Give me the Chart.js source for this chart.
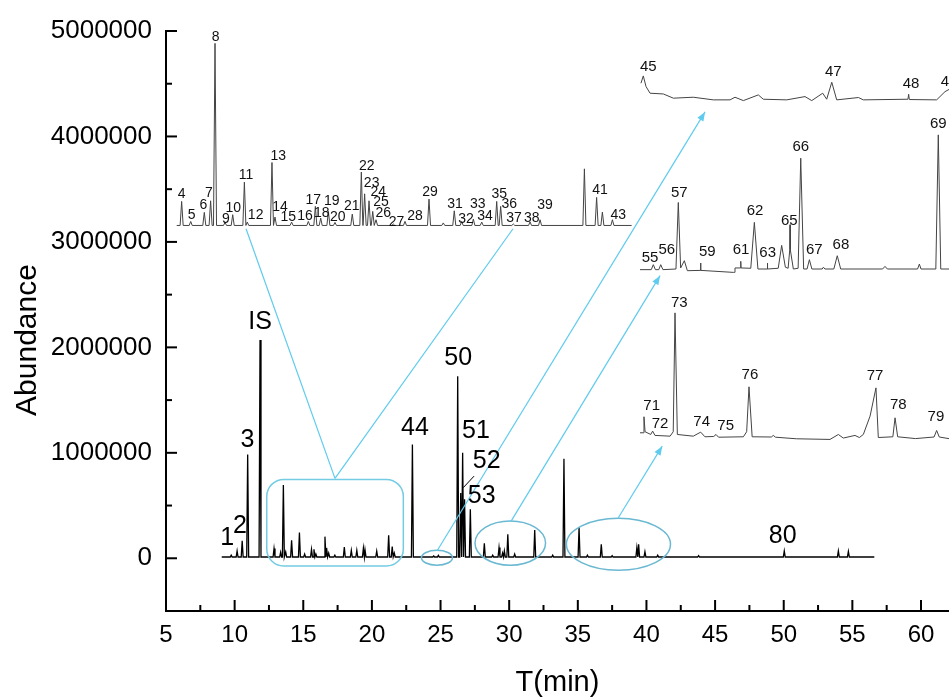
<!DOCTYPE html>
<html><head><meta charset="utf-8">
<script src="https://cdn.jsdelivr.net/npm/chart.js@4.4.1/dist/chart.umd.min.js"></script>
<style>html,body{margin:0;padding:0;background:#fff;}#wrap{width:949px;height:700px;}</style>
</head><body><div id="wrap"><canvas id="c" width="949" height="700"></canvas></div>
<script>
const FONT = '"Liberation Sans", Arial, Helvetica, sans-serif';

// ---- axes ----
const xTickValues = [5,10,15,20,25,30,35,40,45,50,55,60];
const xMinorValues = [7.5,12.5,17.5,22.5,27.5,32.5,37.5,42.5,47.5,52.5,57.5];
const yTickValues = [0,1000000,2000000,3000000,4000000,5000000];
const yMinorValues = [500000,1500000,2500000,3500000,4500000];
const yTitle = 'Abundance';

// ---- main chromatogram (retention time, abundance) ----
const mainStart = 9.06, mainEnd = 56.6, mainBase = 12000;
const mainPeakT = [9.75,10.18,10.55,10.95,11.85,12.87,13.35,13.55,13.72,14.15,14.72,15.10,15.60,15.78,15.92,16.58,16.70,16.85,17.30,17.99,18.50,18.90,19.38,19.50,20.35,21.22,21.48,21.63,22.95,24.50,24.84,26.25,26.47,26.61,26.75,27.17,28.19,28.80,29.26,29.52,29.65,29.90,30.40,31.86,33.17,33.99,35.09,35.70,36.71,37.50,39.30,39.43,39.89,40.82,43.80,50.04,53.98,54.71];
const mainPeakV = [30000,70000,165000,985000,2070000,92000,57000,694000,60000,170000,243000,40000,85000,85000,40000,205000,98000,50000,30000,107000,75000,75000,96000,80000,68000,218000,110000,50000,1080000,22000,28000,1726000,620000,1000000,560000,464000,142000,30000,101000,50000,70000,227000,40000,268000,30000,944000,295000,30000,132000,25000,100000,132000,63000,30000,25000,70000,70000,65000];

// ---- top inset (peaks 4-43), drawn in main-axis units ----
const topStart = 5.78, topEnd = 38.92, topBase = 3156000;
const topPeakT = [6.14,6.80,7.79,8.25,8.57,9.30,9.86,10.71,10.92,12.72,12.94,14.15,15.37,15.88,16.27,16.83,17.31,18.57,19.23,19.47,19.79,20.06,20.30,21.56,22.41,24.16,25.20,26.00,26.54,27.39,28.00,29.09,29.38,30.30,31.52,32.25,35.48,36.37,36.79,37.52];
const topPeakV = [3384000,3194000,3280000,3390000,4883000,3185000,3258000,3567000,3188000,3753000,3236000,3188000,3194000,3337000,3226000,3290000,3185000,3264000,3662000,3456000,3390000,3289000,3210000,3170000,3195000,3406000,3180000,3295000,3194000,3217000,3188000,3384000,3337000,3170000,3190000,3210000,3693000,3422000,3283000,3210000];

// ---- right insets, traced vertices ----
const ins45T = [39.60,39.77,39.97,40.26,41.23,41.96,43.41,44.87,46.09,46.45,47.06,48.15,48.51,50.22,51.55,52.04,52.84,53.13,53.50,53.86,55.44,55.80,59.05,59.10,59.15,61.14,61.75,62.10];
const ins45V = [4505000,4574000,4473000,4410000,4403000,4363000,4372000,4347000,4347000,4372000,4340000,4394000,4353000,4347000,4378000,4340000,4410000,4353000,4514000,4347000,4369000,4347000,4353000,4400000,4350000,4347000,4425000,4450000];

const ins55T = [39.53,40.35,40.50,40.65,40.90,41.04,41.20,42.15,42.32,42.49,42.76,42.98,43.94,43.95,43.96,46.33,46.40,46.45,46.85,46.87,46.89,47.60,47.86,48.12,48.79,48.81,48.83,49.60,49.85,50.12,50.32,50.44,50.46,50.48,50.70,51.05,51.24,51.45,51.70,51.87,52.05,52.80,52.89,53.00,53.65,53.90,54.15,57.20,57.38,57.55,59.75,59.88,60.00,61.08,61.26,61.44,62.10];
const ins55V = [2737000,2737000,2784000,2737000,2737000,2784000,2737000,2743000,3374000,2753000,2822000,2727000,2730000,2800000,2730000,2711000,2711000,2753000,2753000,2816000,2753000,2750000,3185000,2743000,2743000,2800000,2743000,2750000,2967000,2760000,2750000,2926000,3163000,2926000,2743000,2750000,3794000,2743000,2743000,2831000,2743000,2743000,2760000,2743000,2743000,2869000,2743000,2743000,2768000,2743000,2743000,2790000,2743000,2743000,4015000,2743000,2743000];

const ins71T = [39.53,39.78,39.82,39.90,40.31,40.45,40.62,41.72,41.95,42.08,42.25,43.41,43.95,44.26,44.90,45.07,45.25,47.06,47.30,47.47,47.70,49.10,49.24,49.40,50.94,53.37,53.98,54.34,55.19,55.51,55.80,56.29,56.72,56.89,57.95,58.11,58.30,59.60,60.95,61.14,61.33,62.10];
const ins71V = [1190000,1190000,1342000,1200000,1174000,1206000,1165000,1158000,1200000,2327000,1174000,1158000,1196000,1152000,1155000,1174000,1148000,1152000,1200000,1626000,1152000,1150000,1165000,1148000,1133000,1127000,1174000,1140000,1165000,1145000,1174000,1348000,1616000,1145000,1152000,1332000,1152000,1135000,1150000,1212000,1150000,1133000];

// ---- peak labels (text, anchor time, anchor abundance) ----
const mainLabelText = ['1','2','3','IS','44','50','51','52','53','80'];
const mainLabelT = [9.45,10.39,10.93,11.85,23.14,26.29,27.58,28.36,28.00,49.93];
const mainLabelV = [195000,306000,1120000,2240000,1238000,1900000,1206000,921000,590000,211000];

const topLabelText = ['4','5','6','7','8','9','10','11','12','13','14','15','16','17','18','19','20','21','22','23','24','25','26','27','28','29','31','32','33','34','35','36','37','38','39','41','43'];
const topLabelT = [6.14,6.87,7.72,8.13,8.62,9.37,9.90,10.83,11.53,13.18,13.30,13.91,15.13,15.73,16.34,17.07,17.51,18.53,19.62,19.98,20.47,20.66,20.83,21.80,23.14,24.23,26.05,26.85,27.71,28.24,29.28,30.01,30.35,31.64,32.61,36.62,37.95];
const topLabelV = [3456000,3258000,3346000,3463000,4946000,3220000,3321000,3630000,3258000,3816000,3327000,3236000,3248000,3393000,3274000,3390000,3236000,3343000,3715000,3558000,3469000,3378000,3274000,3188000,3248000,3475000,3362000,3217000,3362000,3242000,3456000,3362000,3226000,3226000,3349000,3488000,3258000];

const sideLabelText = ['45','47','48','49','55','56','57','59','61','62','63','65','66','67','68','69','71','72','73','74','75','76','77','78','79'];
const sideLabelT = [40.13,53.61,59.27,62.05,40.26,41.48,42.39,44.43,46.89,47.91,48.83,50.41,51.24,52.23,54.17,61.26,40.38,40.99,42.39,44.02,45.77,47.54,56.65,58.35,61.09];
const sideLabelV = [4662000,4615000,4495000,4514000,2848000,2926000,3469000,2901000,2920000,3296000,2895000,3204000,3899000,2920000,2973000,4119000,1449000,1278000,2421000,1291000,1259000,1742000,1733000,1458000,1342000];

// ---- zoom annotations (main-axis units) ----
const boxT = [12.34, 22.29], boxV = [-73000, 748000];
const fanFrom = [17.31, 758000];
const fanToT = [10.83, 30.28], fanToV = [3125000, 3125000];
const ellT = [24.74, 30.08, 37.96], ellV = [5000, 144000, 133000];
const ellRT = [1.13, 2.57, 3.79], ellRV = [71000, 210000, 246000];
const arrFromT = [24.74, 30.13, 37.95], arrFromV = [69000, 350000, 384000];
const arrToT = [44.27, 40.99, 41.15], arrToV = [4233000, 2680000, 1063000];
const leaderT = [27.44, 26.66], leaderV = [779000, 670000];

// ---- build line data ----
function peakTrace(start, end, base, times, heights, hw) {
  const pts = [{x: start, y: base}];
  times.forEach((t, i) => { pts.push({x: t - hw, y: base}, {x: t, y: heights[i]}, {x: t + hw, y: base}); });
  pts.push({x: end, y: base});
  return pts;
}
const zipPts = (ts, vs) => ts.map((t, i) => ({x: t, y: vs[i]}));

const overlay = {
  id: 'overlay',
  afterDatasetsDraw(chart) {
    const {ctx, chartArea: a, scales: {x, y}} = chart;
    const X = v => x.getPixelForValue(v), Y = v => y.getPixelForValue(v);
    ctx.save();
    // inward ticks
    ctx.strokeStyle = '#000'; ctx.lineWidth = 2;
    const seg = (x1, y1, x2, y2) => { ctx.beginPath(); ctx.moveTo(x1, y1); ctx.lineTo(x2, y2); ctx.stroke(); };
    xTickValues.forEach(v => seg(X(v), a.bottom, X(v), a.bottom - 11));
    xMinorValues.forEach(v => seg(X(v), a.bottom, X(v), a.bottom - 6));
    yTickValues.forEach(v => seg(a.left, Y(v), a.left + 11, Y(v)));
    yMinorValues.forEach(v => seg(a.left, Y(v), a.left + 6, Y(v)));

    // zoom box
    ctx.strokeStyle = '#74cbe4'; ctx.lineWidth = 1.5;
    const x0 = X(boxT[0]), x1 = X(boxT[1]), y0 = Y(boxV[1]), y1 = Y(boxV[0]), r = 17;
    ctx.beginPath();
    ctx.moveTo(x0 + r, y0); ctx.arcTo(x1, y0, x1, y1, r); ctx.arcTo(x1, y1, x0, y1, r);
    ctx.arcTo(x0, y1, x0, y0, r); ctx.arcTo(x0, y0, x1, y0, r); ctx.closePath(); ctx.stroke();
    // ellipses
    ctx.strokeStyle = '#6ab8d2';
    ellT.forEach((t, i) => {
      const cx = X(t), cy = Y(ellV[i]);
      ctx.beginPath();
      ctx.ellipse(cx, cy, X(t + ellRT[i]) - cx, cy - Y(ellV[i] + ellRV[i]), 0, 0, Math.PI * 2);
      ctx.stroke();
    });
    // fan lines
    ctx.strokeStyle = '#5fcbee'; ctx.lineWidth = 1.2;
    fanToT.forEach((t, i) => seg(X(fanFrom[0]), Y(fanFrom[1]), X(t), Y(fanToV[i])));
    // arrows
    ctx.fillStyle = '#5fcbee';
    arrFromT.forEach((t, i) => {
      const ax = X(t), ay = Y(arrFromV[i]), bx = X(arrToT[i]), by = Y(arrToV[i]);
      seg(ax, ay, bx, by);
      const ang = Math.atan2(by - ay, bx - ax), L = 9, W = 3.5;
      ctx.beginPath();
      ctx.moveTo(bx, by);
      ctx.lineTo(bx - L * Math.cos(ang) + W * Math.sin(ang), by - L * Math.sin(ang) - W * Math.cos(ang));
      ctx.lineTo(bx - L * Math.cos(ang) - W * Math.sin(ang), by - L * Math.sin(ang) + W * Math.cos(ang));
      ctx.closePath(); ctx.fill();
    });
    // leader for 52
    ctx.strokeStyle = '#000'; ctx.lineWidth = 1;
    seg(X(leaderT[0]), Y(leaderV[0]), X(leaderT[1]), Y(leaderV[1]));

    // labels
    ctx.textAlign = 'center'; ctx.textBaseline = 'middle'; ctx.fillStyle = '#000';
    ctx.font = '25px ' + FONT;
    mainLabelText.forEach((s, i) => ctx.fillText(s, X(mainLabelT[i]), Y(mainLabelV[i])));
    ctx.fillStyle = '#111';
    ctx.font = '14px ' + FONT;
    topLabelText.forEach((s, i) => ctx.fillText(s, X(topLabelT[i]), Y(topLabelV[i])));
    ctx.font = '15px ' + FONT;
    sideLabelText.forEach((s, i) => ctx.fillText(s, X(sideLabelT[i]), Y(sideLabelV[i])));

    // y-axis title (placed as in the reference, below the axis centre)
    ctx.fillStyle = '#000';
    ctx.font = '30px ' + FONT;
    ctx.translate(28, 340);
    ctx.rotate(-Math.PI / 2);
    ctx.fillText(yTitle, 0, 0);
    ctx.restore();
  }
};

const lineDs = (data, color, width) => ({
  data, borderColor: color, borderWidth: width, pointRadius: 0, tension: 0, fill: false
});

new Chart(document.getElementById('c'), {
  type: 'line',
  data: {
    datasets: [
      lineDs(peakTrace(mainStart, mainEnd, mainBase, mainPeakT, mainPeakV, 0.07), '#000', 1.3),
      lineDs(peakTrace(topStart, topEnd, topBase, topPeakT, topPeakV, 0.11), '#444', 1),
      lineDs(zipPts(ins45T, ins45V), '#444', 1),
      lineDs(zipPts(ins55T, ins55V), '#444', 1),
      lineDs(zipPts(ins71T, ins71V), '#444', 1)
    ]
  },
  options: {
    responsive: false, animation: false,
    layout: {padding: {top: 31, right: 0, left: 0, bottom: 0}},
    plugins: {legend: {display: false}, tooltip: {enabled: false}},
    scales: {
      x: {
        type: 'linear', min: 5, max: 62.04,
        grid: {display: false, drawTicks: false},
        border: {display: true, color: '#000', width: 2},
        ticks: {color: '#000', font: {family: FONT, size: 24}, padding: 10, maxRotation: 0, autoSkip: false},
        afterBuildTicks: s => { s.ticks = xTickValues.map(v => ({value: v})); },
        afterFit: s => { s.height = 89; },
        title: {display: true, text: 'T(min)', color: '#000', font: {family: FONT, size: 29}, padding: {top: 0, bottom: 0}}
      },
      y: {
        type: 'linear', min: -500000, max: 5000000,
        grid: {display: false, drawTicks: false},
        border: {display: true, color: '#000', width: 2},
        ticks: {color: '#000', font: {family: FONT, size: 26}, padding: 14, callback: v => String(v)},
        afterBuildTicks: s => { s.ticks = yTickValues.map(v => ({value: v})); },
        afterFit: s => { s.width = 166; },
        title: {display: false, text: yTitle}
      }
    }
  },
  plugins: [overlay]
});
</script>
</body></html>
